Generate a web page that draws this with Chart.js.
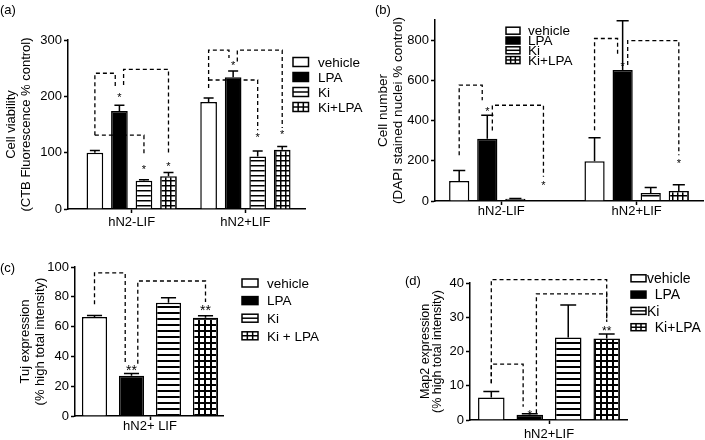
<!DOCTYPE html>
<html>
<head>
<meta charset="utf-8">
<script src="https://cdn.jsdelivr.net/npm/chart.js@4.4.0/dist/chart.umd.min.js"></script>
<style>
    html, body { margin: 0; padding: 0; background: #fff; }
    #page { position: relative; width: 705px; height: 440px; overflow: hidden; background: #fff; }
    canvas { position: absolute; }
</style>
</head>
<body>
<div id="page">
    <canvas id="viabilityChart" width="372" height="230" style="left:0;top:0"></canvas>
    <canvas id="cellNumberChart" width="333" height="230" style="left:372px;top:0"></canvas>
    <canvas id="tujChart" width="360" height="212" style="left:0;top:228px"></canvas>
    <canvas id="map2Chart" width="345" height="212" style="left:360px;top:228px"></canvas>
</div>
<script>
const FONT = "'Liberation Sans', Arial, sans-serif";

const treatments = ["vehicle", "LPA", "Ki", "Ki+LPA"];
const mediaGroups = ["hN2-LIF", "hN2+LIF"];

// (a) rows = treatment, columns = hN2-LIF / hN2+LIF
const viabilityMean = [[100, 190], [174, 234], [50, 93], [58, 105]];
const viabilitySem = [[4, 7], [10, 11], [2, 10], [7, 6]];
// [group, fromBar, toBar, top, fromEnd, toEnd]
const viabilityBrackets = [
    [0, 0, 1, 241, 131, 215],
    [0, 1, 3, 248, 220, 99],
    [0, 0, 2, 131, 131, 96],
    [1, 0, 1, 282, 215, 268],
    [1, 1, 3, 282, 262, 144],
    [1, 0, 2, 229, 229, 140],
];
// [group, bar, value, label]
const viabilityStars = [
    [0, 1, 202, "*"], [0, 2, 75, "*"], [0, 3, 81, "*"],
    [1, 1, 259, "*"], [1, 2, 131, "*"], [1, 3, 137, "*"],
];

// (b)
const cellNumberMean = [[100, 198], [310, 651], [11, 40], [3, 50]];
const cellNumberSem = [[52, 116], [117, 245], [2, 27], [0, 31]];
const cellNumberBrackets = [
    [0, 0, 1, 576, 227, 501],
    [0, 1, 3, 476, 350, 120],
    [1, 0, 1, 808, 352, 717],
    [1, 1, 3, 797, 676, 227],
];
const cellNumberStars = [
    [0, 1, 460, "*"], [0, 3, 90, "*"],
    [1, 1, 684, "*"], [1, 3, 202, "*"],
];

// (c)
const tujLabels = ["vehicle", "LPA", "Ki", "Ki + LPA"];
const tujMean = [66.5, 27, 76, 66];
const tujSem = [1, 1.6, 3.3, 1.2];
const tujBrackets = [
    [0, 0, 1, 96, 75, 35],
    [0, 1, 3, 90.6, 35, 76.5],
];
const tujStars = [[0, 1, 33, "**"], [0, 3, 73, "**"]];

// (d)
const map2Labels = ["vehicle", "  LPA", "Ki", "  Ki+LPA"];
const map2Mean = [6.6, 1.5, 24.1, 23.8];
const map2Sem = [1.7, 0.3, 9.5, 1.3];
const map2Brackets = [
    [0, 0, 3, 41, 10.7, 28.7],
    [0, 0, 1, 16.3, 10.7, 3.9],
    [0, 1, 3, 36.8, 1.95, 28.7],
];
const map2Stars = [[0, 1, 2.4, "*"], [0, 3, 26.8, "**"]];

function makeFill(ctx, kind, size, line) {
    if (kind === 0) return "#fff";
    if (kind === 1) return "#000";
    const tile = document.createElement("canvas");
    tile.width = size;
    tile.height = size;
    const g = tile.getContext("2d");
    g.fillStyle = "#fff";
    g.fillRect(0, 0, size, size);
    g.fillStyle = "#000";
    g.fillRect(0, 0, size, line);
    if (kind === 3) g.fillRect(0, 0, line, size);
    return ctx.createPattern(tile, "repeat");
}

function drawKey(ctx, kind, x, y, w, h) {
    ctx.fillStyle = kind === 1 ? "#000" : "#fff";
    ctx.fillRect(x, y, w, h);
    ctx.strokeRect(x, y, w, h);
    if (kind >= 2) {
        ctx.beginPath();
        ctx.moveTo(x, y + h / 2);
        ctx.lineTo(x + w, y + h / 2);
        if (kind === 3) {
            ctx.moveTo(x + w / 3, y);
            ctx.lineTo(x + w / 3, y + h);
            ctx.moveTo(x + (2 * w) / 3, y);
            ctx.lineTo(x + (2 * w) / 3, y + h);
        }
        ctx.stroke();
    }
}

const annotate = {
    id: "annotate",
    afterDatasetsDraw(chart, args, opts) {
        const ctx = chart.ctx;
        const yScale = chart.scales.y;
        const bar = (g, b) => chart.getDatasetMeta(b).data[g];

        ctx.save();
        ctx.strokeStyle = "#000";
        ctx.lineWidth = 1.5;
        chart.data.datasets.forEach((ds, di) => {
            chart.getDatasetMeta(di).data.forEach((el, i) => {
                const err = ds.sem[i];
                if (!err) return;
                const top = yScale.getPixelForValue(ds.data[i].y + err);
                const half = el.width * 0.3;
                ctx.beginPath();
                ctx.moveTo(el.x, el.y);
                ctx.lineTo(el.x, top);
                ctx.moveTo(el.x - half, top);
                ctx.lineTo(el.x + half, top);
                ctx.stroke();
            });
        });

        // a bar touched by brackets going both ways splits its ends left / right
        const dirs = {};
        opts.brackets.forEach(([g, a, b]) => {
            (dirs[g + ":" + a] = dirs[g + ":" + a] || new Set()).add(Math.sign(b - a));
            (dirs[g + ":" + b] = dirs[g + ":" + b] || new Set()).add(Math.sign(a - b));
        });
        const endX = (g, b, dir) => {
            const el = bar(g, b);
            const both = dirs[g + ":" + b].size > 1;
            return el.x + (both ? dir * 0.25 * el.width : 0);
        };

        ctx.lineWidth = 1.3;
        ctx.setLineDash([4, 3]);
        opts.brackets.forEach(([g, a, b, top, fromEnd, toEnd]) => {
            const x1 = endX(g, a, Math.sign(b - a));
            const x2 = endX(g, b, Math.sign(a - b));
            ctx.beginPath();
            ctx.moveTo(x1, yScale.getPixelForValue(fromEnd));
            ctx.lineTo(x1, yScale.getPixelForValue(top));
            ctx.lineTo(x2, yScale.getPixelForValue(top));
            ctx.lineTo(x2, yScale.getPixelForValue(toEnd));
            ctx.stroke();
        });
        ctx.setLineDash([]);

        ctx.fillStyle = "#000";
        ctx.font = opts.starSize + "px " + FONT;
        ctx.textAlign = "center";
        ctx.textBaseline = "alphabetic";
        opts.stars.forEach(([g, b, value, label]) => {
            const py = yScale.getPixelForValue(value) + opts.starSize * 0.57;
            ctx.fillText(label, bar(g, b).x, py);
        });
        ctx.restore();
    },
    afterDraw(chart, args, opts) {
        const ctx = chart.ctx;
        ctx.save();
        ctx.fillStyle = "#000";
        ctx.font = "13px " + FONT;
        ctx.textAlign = "left";
        ctx.textBaseline = "middle";
        ctx.fillText(opts.panel[0], opts.panel[1], opts.panel[2]);

        const lg = opts.legend;
        ctx.strokeStyle = "#000";
        ctx.lineWidth = 1.5;
        ctx.font = lg.size + "px " + FONT;
        lg.labels.forEach((label, i) => {
            const cy = lg.y + i * lg.dy;
            drawKey(ctx, i, lg.x, cy - lg.h / 2, lg.w, lg.h);
            ctx.fillStyle = "#000";
            ctx.fillText(label, lg.textX, cy + 1);
        });
        ctx.restore();
    },
};

function createBarChart(id, cfg) {
    const canvas = document.getElementById(id);
    const ctx = canvas.getContext("2d");

    const datasets = treatments.map((name, t) => ({
        label: name,
        data: cfg.mean[t].map((v, g) => ({ x: g, y: v })),
        sem: cfg.sem[t],
        backgroundColor: makeFill(ctx, t, cfg.tile, cfg.tileLine),
        borderColor: "#000",
        borderWidth: 1.5,
        categoryPercentage: cfg.catPct,
        barPercentage: cfg.barPct,
    }));

    const axisGrid = {
        display: true,
        drawOnChartArea: false,
        drawTicks: true,
        tickLength: 4,
        tickWidth: 1.5,
        tickColor: "#000",
        offset: false,
    };
    const axisBorder = { display: true, color: "#000", width: 1.5 };

    return new Chart(ctx, {
        type: "bar",
        data: { datasets: datasets },
        options: {
            responsive: false,
            animation: false,
            events: [],
            layout: { padding: cfg.padding, autoPadding: false },
            scales: {
                x: {
                    type: "linear",
                    min: cfg.xMin,
                    max: cfg.xMax,
                    offset: false,
                    afterBuildTicks: (s) => {
                        s.ticks = cfg.groups.map((_, i) => ({ value: i }));
                    },
                    afterFit: (s) => {
                        s.height = cfg.xHeight;
                    },
                    ticks: {
                        autoSkip: false,
                        maxRotation: 0,
                        padding: cfg.xPad,
                        color: "#000",
                        font: { family: FONT, size: 13 },
                        callback: (v) => cfg.groups[v],
                    },
                    grid: axisGrid,
                    border: axisBorder,
                },
                y: {
                    min: 0,
                    max: cfg.yMax,
                    afterBuildTicks: (s) => {
                        s.ticks = s.ticks.filter((t) => t.value % cfg.yStep === 0);
                    },
                    afterFit: (s) => {
                        s.width = cfg.yWidth;
                    },
                    ticks: {
                        stepSize: cfg.yStep,
                        padding: 2,
                        color: "#000",
                        font: { family: FONT, size: 13 },
                    },
                    grid: axisGrid,
                    border: axisBorder,
                    title: {
                        display: true,
                        text: cfg.yTitle,
                        color: "#000",
                        font: { family: FONT, size: cfg.titleSize, lineHeight: cfg.titleLine },
                        padding: { top: 4, bottom: 0 },
                    },
                },
            },
            plugins: {
                legend: { display: false },
                tooltip: { enabled: false },
                annotate: {
                    brackets: cfg.brackets,
                    stars: cfg.stars,
                    starSize: cfg.starSize,
                    panel: cfg.panel,
                    legend: cfg.legend,
                },
            },
        },
        plugins: [annotate],
    });
}

createBarChart("viabilityChart", {
    mean: viabilityMean,
    sem: viabilitySem,
    groups: mediaGroups,
    brackets: viabilityBrackets,
    stars: viabilityStars,
    yMax: 300,
    yStep: 100,
    yTitle: ["Cell viability", "(CTB Fluorescence % control)"],
    titleSize: 13,
    titleLine: 15 / 13,
    padding: { left: 0, top: 40, right: 67, bottom: 0 },
    yWidth: 68,
    xHeight: 21,
    xPad: 2,
    xMin: -0.56,
    xMax: 1.524,
    catPct: 0.863,
    barPct: 0.68,
    tile: 5,
    tileLine: 1.5,
    starSize: 11,
    panel: ["(a)", 0, 10],
    legend: { labels: treatments, x: 293, y: 62, dy: 15, w: 15.5, h: 9, textX: 318, size: 13.5 },
});

createBarChart("cellNumberChart", {
    mean: cellNumberMean,
    sem: cellNumberSem,
    groups: mediaGroups,
    brackets: cellNumberBrackets,
    stars: cellNumberStars,
    yMax: 900,
    yStep: 200,
    yTitle: ["Cell number", "(DAPI stained nuclei % control)"],
    titleSize: 13.5,
    titleLine: 15 / 13.5,
    padding: { left: 0, top: 20, right: 2, bottom: 0 },
    yWidth: 63,
    xHeight: 29,
    xPad: -1,
    xMin: -0.49,
    xMax: 1.49,
    catPct: 0.83,
    barPct: 0.72,
    tile: 5,
    tileLine: 1.5,
    starSize: 11,
    panel: ["(b)", 3, 10],
    legend: { labels: treatments, x: 134, y: 30.7, dy: 9.8, w: 14, h: 7, textX: 156, size: 13.5 },
});

createBarChart("tujChart", {
    mean: tujMean.map((v) => [v]),
    sem: tujSem.map((v) => [v]),
    groups: ["hN2+ LIF"],
    brackets: tujBrackets,
    stars: tujStars,
    yMax: 100,
    yStep: 20,
    yTitle: ["Tuj expression", "(% high total intensity)"],
    titleSize: 13,
    titleLine: 15 / 13,
    padding: { left: 14, top: 39, right: 137, bottom: 0 },
    yWidth: 61,
    xHeight: 24,
    xPad: -1,
    xMin: -0.75,
    xMax: 0.73,
    catPct: 1.0,
    barPct: 0.68,
    tile: 6,
    tileLine: 2,
    starSize: 14,
    panel: ["(c)", 0, 40],
    legend: { labels: tujLabels, x: 242, y: 55, dy: 17.6, w: 16, h: 8, textX: 267, size: 13.5 },
});

createBarChart("map2Chart", {
    mean: map2Mean.map((v) => [v]),
    sem: map2Sem.map((v) => [v]),
    groups: ["hN2+LIF"],
    brackets: map2Brackets,
    stars: map2Stars,
    yMax: 40,
    yStep: 10,
    yTitle: ["Map2 expression", "(% high total intensity)"],
    titleSize: 12.5,
    titleLine: 12 / 12.5,
    padding: { left: 55.5, top: 55, right: 78, bottom: 0 },
    yWidth: 54.5,
    xHeight: 20,
    xPad: 3,
    xMin: -0.79,
    xMax: 0.78,
    catPct: 0.98,
    barPct: 0.69,
    tile: 6,
    tileLine: 2,
    starSize: 12,
    panel: ["(d)", 45, 53],
    legend: { labels: map2Labels, x: 271, y: 50.3, dy: 16.3, w: 15, h: 7, textX: 287, size: 14 },
});
</script>
</body>
</html>
